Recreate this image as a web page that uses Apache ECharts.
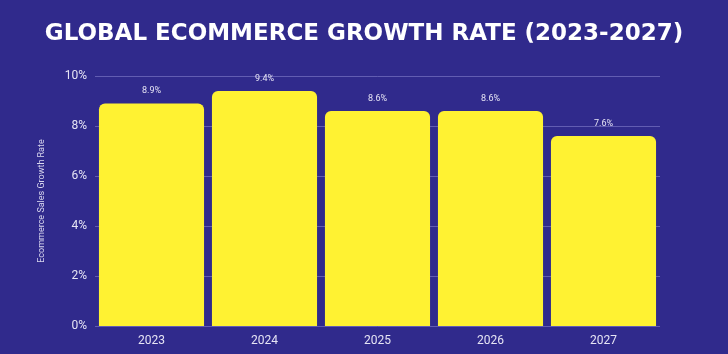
<!DOCTYPE html>
<html><head><meta charset="utf-8">
<script src="https://cdn.jsdelivr.net/npm/echarts@6/dist/echarts.min.js"></script>
<style>html,body{margin:0;padding:0;background:#302a8c;}#c{width:728px;height:354px;}</style>
</head><body><div id="c"></div>
<script>
const categories = ['2023','2024','2025','2026','2027'];
const growthRate = [8.9, 9.4, 8.6, 8.6, 7.6];
const yTicks = [0, 2, 4, 6, 8, 10];
const chart = echarts.init(document.getElementById('c'));
chart.setOption({
  backgroundColor: '#302a8c',
  title: {
    text: 'GLOBAL ECOMMERCE GROWTH RATE (2023-2027)',
    left: 'center', top: 18,
    textStyle: {color: '#ffffff', fontFamily: 'DejaVu Sans', fontWeight: 'bold', fontSize: 23}
  },
  grid: {left: 95, right: 68, top: 76, bottom: 28},
  xAxis: {
    type: 'category', data: categories,
    axisLine: {show: false}, axisTick: {show: false},
    axisLabel: {color: '#e6e4f4', fontSize: 12, fontFamily: 'Roboto', margin: 9}
  },
  yAxis: {
    type: 'value', min: yTicks[0], max: yTicks[yTicks.length-1], interval: 2,
    name: 'Ecommerce Sales Growth Rate', nameLocation: 'middle', nameGap: 49,
    nameTextStyle: {color: '#d8d6ee', fontSize: 9, fontFamily: 'Roboto'},
    axisLabel: {color: '#e6e4f4', fontSize: 12, fontFamily: 'Roboto', formatter: '{value}%', margin: 8},
    splitLine: {lineStyle: {color: 'rgba(140,135,210,0.55)', width: 1}},
    axisLine: {show: false}, axisTick: {show: false}
  },
  series: [{
    type: 'bar', data: growthRate, barCategoryGap: '7%',
    itemStyle: {color: '#fff232', borderRadius: [6,6,0,0]},
    label: {show: true, position: 'top', distance: 8, formatter: '{c}%', color: '#e6e4f4', fontSize: 9, fontFamily: 'Roboto'}
  }]
});
</script></body></html>
